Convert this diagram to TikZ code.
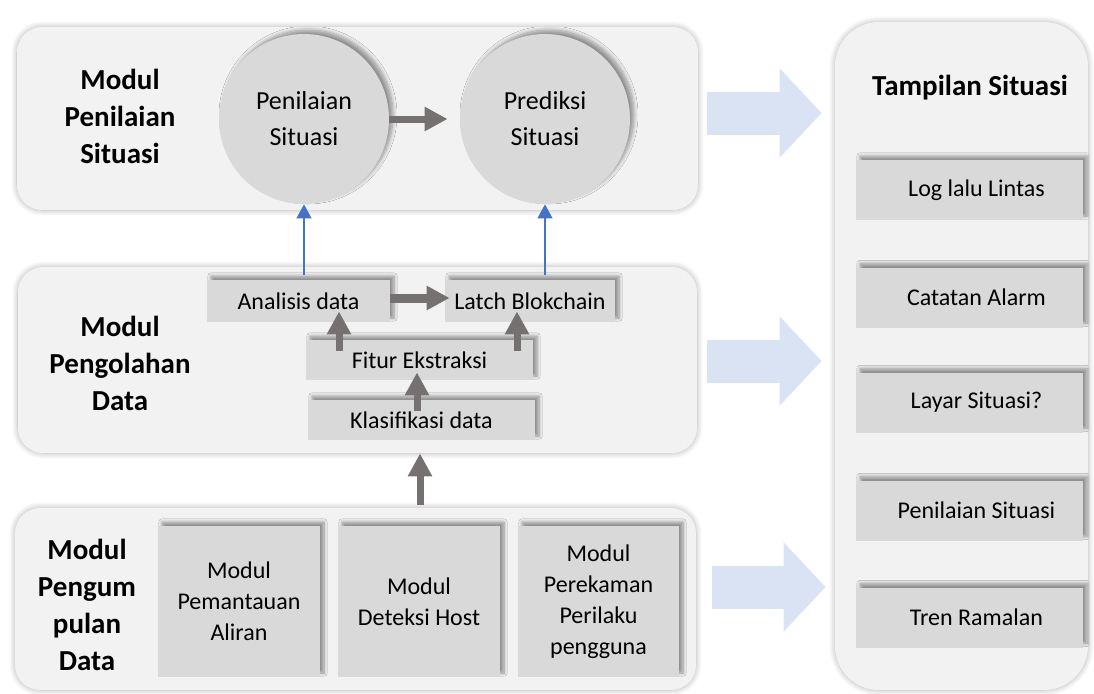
\documentclass[tikz,border=0pt]{standalone}
\usepackage{fontspec}
\setmainfont{Carlito}
\usepackage{xcolor}
\usetikzlibrary{arrows.meta,shadows.blur}
\definecolor{pnlgray}{HTML}{F2F2F2}
\definecolor{boxgray}{HTML}{D9D9D9}
\definecolor{arrgray}{HTML}{767171}
\definecolor{arrblue}{HTML}{DAE3F3}
\definecolor{linblue}{HTML}{4472C4}

\tikzset{
  panel/.style={fill=pnlgray, rounded corners=12.5pt, inner sep=0pt,
    blur shadow={shadow xshift=0pt, shadow yshift=0pt, shadow opacity=30, shadow blur radius=3pt, shadow blur steps=10}},
  kotak/.style={fill=boxgray, inner sep=0pt, align=center, font=\fontsize{12}{15.5}\selectfont,
    blur shadow={shadow xshift=2pt, shadow yshift=2pt, shadow opacity=40, shadow blur radius=1.6pt, shadow blur steps=8}},
  lingkaran/.style={circle, fill=boxgray, minimum size=85pt, inner sep=0pt, align=center,
    font=\fontsize{13}{18}\selectfont,
    blur shadow={shadow xshift=2pt, shadow yshift=2pt, shadow opacity=40, shadow blur radius=2pt, shadow blur steps=8}},
  judul/.style={align=center, font=\bfseries\fontsize{14.5}{18.5}\selectfont},
  grarr/.style={draw=arrgray, line width=3.5pt, -{Triangle[length=11.5pt,width=11.5pt]}},
  blarr/.style={draw=linblue, line width=0.6pt, -{Triangle[length=7pt,width=7.5pt]}},
  bigarr/.style={draw=arrblue, line width=21.5pt, -{Triangle[length=21pt,width=43.5pt]}},
}

\begin{document}
\begin{tikzpicture}[x=0.5pt,y=-0.5pt]
  \useasboundingbox (0,0) rectangle (1094,693);
  % panel
  \node (pnl) [panel, minimum width=340.5pt, minimum height=91.5pt] at (357.5,118.5) {};
  \node (pgl) [panel, minimum width=339.5pt, minimum height=93pt] at (357.5,360) {};
  \node (pgm) [panel, minimum width=340.5pt, minimum height=91pt] at (355.5,599) {};
  \node (tampil) [panel, rounded corners=22pt, minimum width=126.5pt, minimum height=334pt] at (961.5,356) {};

  % modul penilaian
  \node (jpnl) [judul] at (120,116) {Modul\\Penilaian\\Situasi};
  \node (pen) [lingkaran] at (304,119) {Penilaian\\Situasi};
  \node (pred) [lingkaran] at (545,119) {Prediksi\\Situasi};
  \draw [grarr] (pen.east) -- ([xshift=-6pt]pred.west);

  % modul pengolahan
  \node (jpgl) [judul] at (120,363) {Modul\\Pengolahan\\Data};
  \node (ana) [kotak, minimum width=91.5pt, minimum height=21pt] at (298.5,301) {Analisis data};
  \node (latch) [kotak, minimum width=85pt, minimum height=21pt] at (530,301) {Latch Blokchain};
  \node (fitur) [kotak, minimum width=113.5pt, minimum height=20pt] at (419.5,360) {Fitur Ekstraksi};
  \node (klas) [kotak, minimum width=113.5pt, minimum height=20pt] at (421.5,420) {Klasifikasi data};
  \draw [grarr, line width=4.5pt] ([yshift=1.5pt]ana.east) -- ([xshift=2.5pt,yshift=1.5pt]latch.west);
  \draw [grarr] ([xshift=-40.25pt,yshift=-5.5pt]fitur.north) -- ([xshift=20.25pt,yshift=5.5pt]ana.south);
  \draw [grarr] ([xshift=48.75pt,yshift=-5.5pt]fitur.north) -- ([xshift=-6.5pt,yshift=5.5pt]latch.south);
  \draw [grarr] ([xshift=-2.25pt,yshift=-5.5pt]klas.north) -- ([xshift=-1.25pt,yshift=4pt]fitur.south);
  \draw [blarr] ([yshift=2.5pt]ana.north -| pen.south) -- (pen.south);
  \draw [blarr] ([yshift=2.5pt]latch.north -| pred.south) -- (pred.south);

  % modul pengumpulan
  \node (jpgm) [judul] at (87,605) {Modul\\Pengum\\pulan\\Data};
  \node (alir) [kotak, minimum width=81pt, minimum height=75.5pt] at (239,601.5) {Modul\\Pemantauan\\Aliran};
  \node (host) [kotak, minimum width=81pt, minimum height=75.5pt] at (419,601.5) {Modul\\Deteksi Host};
  \node (rekam) [kotak, minimum width=80.5pt, minimum height=75.5pt] at (598.5,601.5) {Modul\\Perekaman\\Perilaku\\pengguna};
  \draw [grarr] ([xshift=32.25pt,yshift=1.5pt]pgm.north) -- ([xshift=31.25pt]pgl.south);

  % tampilan situasi
  \node (jtampil) [judul] at (970,88) {Tampilan Situasi};
  \node (log) [kotak, minimum width=113.5pt, minimum height=30pt] at (969.5,190) {\hspace{7pt}Log lalu Lintas};
  \node (alarm) [kotak, minimum width=113.5pt, minimum height=30pt] at (969.5,297.5) {\hspace{7pt}Catatan Alarm};
  \node (layar) [kotak, minimum width=113.5pt, minimum height=30pt] at (969.5,402.5) {\hspace{7pt}Layar Situasi?};
  \node (nilai) [kotak, minimum width=113.5pt, minimum height=30pt] at (969.5,510.5) {\hspace{7pt}Penilaian Situasi};
  \node (tren) [kotak, minimum width=113.5pt, minimum height=30pt] at (969.5,617.5) {\hspace{7pt}Tren Ramalan};

  % panah besar ke tampilan
  \draw [bigarr] ([xshift=4.5pt,yshift=2.75pt]pnl.east) -- ([xshift=-6.5pt,yshift=2.75pt]tampil.west |- pnl.east);
  \draw [bigarr] ([xshift=5pt,yshift=-0.5pt]pgl.east) -- ([xshift=-6.5pt,yshift=-0.5pt]tampil.west |- pgl.east);
  \draw [bigarr] ([xshift=8pt,yshift=6pt]pgm.east) -- ([xshift=-4.5pt,yshift=6pt]tampil.west |- pgm.east);
\end{tikzpicture}
\end{document}
